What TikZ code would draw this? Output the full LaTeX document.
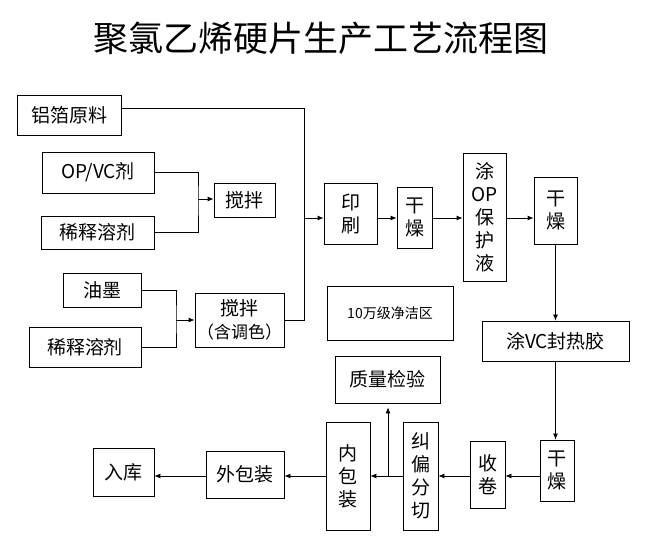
\documentclass[tikz,border=0pt]{standalone}
\usepackage{fontspec}
\newfontfamily\cjk{Noto Sans CJK SC}
\usetikzlibrary{arrows.meta}

\begin{document}
\begin{tikzpicture}[
  x=1pt, y=-1pt, line width=0.8pt,
  >={Latex[length=6pt,width=5pt]},
  box/.style={
        draw,
        inner sep=0pt,
        align=center,
        font=\cjk\fontsize{19}{23}\selectfont
  }
]

    \useasboundingbox (0,0) rectangle (646,545);

    \node[font=\cjk\fontsize{35}{40}\selectfont] (title) at (321,38) {聚氯乙烯硬片生产工艺流程图};

    \node[box, minimum width=104, minimum height=40] (yl) at (69,115) {铝箔原料};
    \node[box, minimum width=112, minimum height=41] (opvc) at (98,172.5) {OP/VC剂};
    \node[box, minimum width=113, minimum height=33] (xs1) at (97.5,232.5) {稀释溶剂};
    \node[box, minimum width=61, minimum height=34] (jb1) at (244.5,200) {搅拌};
    \node[box, minimum width=78, minimum height=34] (ym) at (102,290) {油墨};
    \node[box, minimum width=112, minimum height=40] (xs2) at (85,347) {稀释溶剂};
    \node[box, minimum width=89, minimum height=54] (jb2) at (239.5,320) {搅拌\\{\fontsize{17}{20}\selectfont （含调色）}};

    \node[box, minimum width=53, minimum height=61] (ys) at (350.5,213.5) {印\\刷};
    \node[box, minimum width=35, minimum height=61] (gz1) at (414.5,217.5) {干\\燥};
    \node[box, minimum width=43, minimum height=128] (top) at (484.5,217) {涂\\OP\\保\\护\\液};
    \node[box, minimum width=43, minimum height=67] (gz2) at (555.5,210.5) {干\\燥};
    \node[box, minimum width=126, minimum height=54, font=\cjk\fontsize{14}{17}\selectfont] (jjq) at (390,313) {10万级净洁区};
    \node[box, minimum width=147, minimum height=40] (tvc) at (555.5,341) {涂VC封热胶};

    \node[box, minimum width=34, minimum height=61] (gz3) at (557,470.5) {干\\燥};
    \node[box, minimum width=35, minimum height=67] (sj) at (487.5,474.5) {收\\卷};
    \node[box, minimum width=35, minimum height=108] (jp) at (420.5,476) {纠\\偏\\分\\切};
    \node[box, minimum width=44, minimum height=108] (nbz) at (348,476) {内\\包\\装};
    \node[box, minimum width=105, minimum height=47] (zljy) at (387.5,379.5) {质量检验};
    \node[box, minimum width=78, minimum height=47] (wbz) at (245,474.5) {外包装};
    \node[box, minimum width=61, minimum height=48] (rk) at (123.5,472) {入库};

    \coordinate (bus) at (304,320);
    \coordinate (row) at (0,218);
    \coordinate (row2) at (0,476);
    \coordinate (j1) at (198,199);
    \coordinate (j2) at (176,320);
    \coordinate (fork) at (388,476);

    \draw (opvc.east) -| (j1) |- (xs1.east);
    \draw[->] (j1) -- (jb1.west |- j1);
    \draw (ym.east) -| (j2) |- (xs2.east);
    \draw[->] (j2) -- (jb2.west);
    \draw ([yshift=7pt]yl.east) -| (bus) -- (jb2.east);

    \draw[->] (bus |- row) -- (ys.west |- row);
    \draw[->] (ys.east |- row) -- (gz1.west |- row);
    \draw[->] (gz1.east |- row) -- (top.west |- row);
    \draw[->] (top.east |- row) -- (gz2.west |- row);
    \draw[->] (gz2.south) -- (gz2.south |- tvc.north);
    \draw[->] (tvc.south) -- (tvc.south |- gz3.north);

    \draw[->] (gz3.west |- row2) -- (sj.east |- row2);
    \draw[->] (sj.west |- row2) -- (jp.east |- row2);
    \draw[->] (jp.west |- row2) -- (nbz.east |- row2);
    \draw[->, shorten >=4pt] (fork) -- (fork |- zljy.south);
    \draw[->] (nbz.west |- row2) -- (wbz.east |- row2);
    \draw[->] (wbz.west |- row2) -- (rk.east |- row2);
\end{tikzpicture}
\end{document}
